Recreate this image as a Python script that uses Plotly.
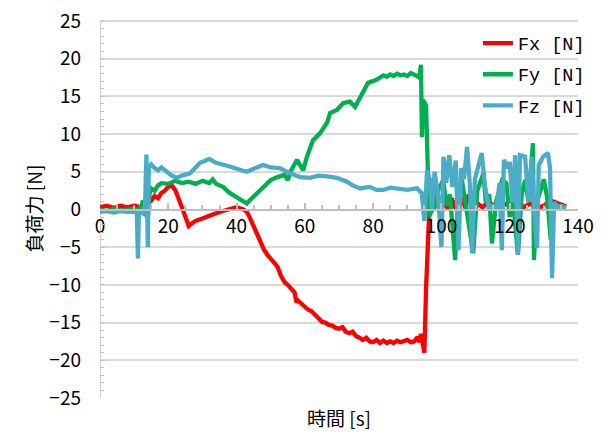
import plotly.graph_objects as go

# ---- Data ----
fx_t = [0, 2, 4, 6, 8, 10, 11, 12, 13, 14, 15, 16, 17, 18, 19, 20, 21, 22, 23, 24, 25, 26, 27, 28,
        30, 32, 34, 36, 38, 40, 42, 43, 44, 45, 46, 47, 48, 49, 50, 51, 52, 53, 54, 55, 56, 57, 57.5,
        58, 59, 60, 61, 62, 63, 64, 65, 66, 67, 68, 69, 70, 71, 72, 73, 74, 75, 76, 77, 78, 79, 80,
        81, 82, 83, 84, 85, 86, 87, 88, 89, 90, 91, 92, 93, 93.5, 94, 94.5, 95, 95.5, 96, 96.5, 97, 98, 99,
        100, 101, 102, 103, 104, 105, 106, 107, 108, 109, 110, 112, 114, 116, 118, 120, 122, 124,
        126, 128, 130, 132, 134, 136.5]
fx_v = [0.3, 0.5, 0.2, 0.5, 0.3, 0.5, 0.4, -0.2, 0.8, 1.5, 1.2, 1.8, 1.5, 2.2, 2.5, 3.0, 3.2, 2.6, 1.5, 0.2, -1.0, -2.2, -1.8, -1.5,
        -1.2, -0.8, -0.5, -0.2, 0.1, 0.3, 0.0, -0.3, -1.2, -2.2, -3.3, -4.5, -5.3, -6.0, -6.6, -7.0, -7.6, -8.8, -9.6, -10.0, -10.6, -11.0, -12.3,
        -12.1, -12.5, -13.0, -13.3, -13.5, -14.0, -14.3, -14.9, -15.0, -15.3, -15.4, -15.7, -15.8, -15.6, -16.2, -16.4, -16.2, -16.8, -17.0, -17.3, -17.0, -17.5, -17.6,
        -17.3, -17.7, -17.4, -17.7, -17.5, -17.7, -17.4, -17.6, -17.5, -17.3, -17.6, -17.5, -16.9, -17.6, -16.5, -18.0, -19.0, -10.5, -3.0, 0.5, 1.0, 0.5, 1.8,
        0.2, 0.8, 0.0, 1.5, 0.3, 0.8, 1.5, 0.2, 2.0, 0.5, 1.0, 0.3, 1.0, 0.2, 0.8, 0.5, 1.2, 0.3,
        0.8, 0.2, 0.5, 1.2, 0.8, 0.4]

fy_t = [0, 2, 4, 6, 8, 10, 11, 12, 12.6, 13, 14, 14.5, 15, 16, 17, 18, 20, 22, 24, 26, 28, 30, 32, 33, 34,
        36, 38, 40, 42, 43, 44, 46, 48, 50, 52, 54, 55, 56, 57.7, 59.5, 60.6, 62.4, 64.4, 66.5, 67.4, 69.4,
        71.2, 73.2, 74.7, 76.7, 78.5, 81, 83, 84, 85, 86, 87, 88, 89, 90, 91, 92.5, 93.5, 94, 94.3, 94.6, 95.5, 96, 96.3,
        97, 98, 99, 100.5, 101.5, 102.5, 104, 105, 106, 107, 108, 109.3, 110.5, 111.5, 112.3, 113, 114,
        114.8, 116, 117.8, 119, 120, 121, 122.4, 123.5, 124.5, 125.5, 126.8, 127.1, 128, 129, 130, 131,
        132, 133, 134, 136.5]
fy_v = [0.0, -0.2, 0.1, -0.1, 0.0, 0.1, -0.1, 0.3, 1.2, -0.5, -1.0, 2.0, 2.8, 2.5, 3.2, 3.5, 3.4, 3.8, 3.5, 3.7, 3.4, 3.8, 3.5, 4.0, 3.4,
        3.0, 2.2, 1.6, 1.0, 0.8, 1.3, 2.2, 3.0, 3.9, 4.3, 4.6, 3.9, 5.2, 6.6, 5.2, 7.0, 9.2, 10.1, 11.5, 12.8, 13.2,
        14.1, 14.3, 13.6, 15.4, 16.8, 17.2, 17.8, 17.6, 17.9, 17.7, 18.0, 17.8, 17.9, 17.7, 18.1, 17.8, 17.5, 19.2, 9.6, 14.5, 13.8, 5.6, -1.0,
        -0.3, 0.3, 2.5, 3.9, 0.5, 2.0, -6.7, 2.0, 3.9, 1.0, -2.0, -5.8, 2.5, 3.9, 4.8, 0.9, 2.0,
        -4.5, 1.0, 3.9, 3.5, -1.0, 1.0, -6.0, 2.0, 3.9, 1.0, 8.8, -6.7, 1.0, 2.6, 4.0, 1.5,
        -4.0, 1.0, 0.5, 0.3]

fz_t = [0, 2, 4, 6, 8, 10, 10.8, 11.1, 11.4, 12.5, 13.2, 13.6, 14.0, 14.3, 15, 16, 17, 18, 19.6, 21, 22.5,
        24, 26.4, 28, 29.3, 31, 32, 34, 36, 38, 40, 42, 43, 45, 47.7, 50, 52.7, 55.7, 58.6, 61.5, 64,
        66.5, 69.4, 72.3, 74, 76.2, 79, 81, 83, 85, 87.9, 90, 92.8, 94.2, 95.0, 95.8, 96.6, 97.2, 98, 99,
        100, 100.6, 101.4, 102.3, 103.2, 104.2, 105, 105.8, 106.6, 107.5, 108.3, 109, 109.8, 110.8, 111.8,
        112.8, 113.8, 115, 116.2, 117, 117.7, 118.3, 119.2, 120, 120.8, 121.6, 122.4, 123, 124.5, 125.5,
        126.5, 127.3, 128, 128.5, 129.8, 131.2, 131.8, 132.4, 133.0, 134, 135, 136.5]
fz_v = [-0.3, -0.2, -0.4, -0.2, -0.3, -0.2, -0.3, -6.5, -0.3, -0.5, 0.5, 7.3, -5.0, 5.5, 6.0, 5.5, 5.2, 5.6, 5.0, 4.5, 4.2,
        4.5, 4.8, 5.5, 6.2, 6.5, 6.7, 6.2, 6.0, 5.7, 5.4, 5.2, 5.0, 5.4, 5.9, 5.6, 5.5, 4.8, 4.3, 4.2, 4.5,
        4.4, 4.2, 3.7, 3.2, 2.8, 3.0, 2.6, 2.6, 2.9, 2.8, 2.6, 2.8, 2.2, -1.5, 5.2, 4.0, 0.0, 5.0, 2.0,
        -5.0, 7.0, 3.5, 7.2, 3.0, 6.5, -5.4, 5.5, 4.0, 8.3, 3.5, -5.8, 4.0, 6.0, 7.5,
        3.0, 0.3, 0.5, 0.3, 3.5, -5.4, 6.6, 5.5, 6.3, 1.0, 7.2, -6.0, 7.2, 7.0, 1.0,
        7.0, -1.0, -5.1, 5.9, 7.0, 7.5, 5.5, -9.1, 0.9, 0.3, 0.5, 0.2]

series_names = ["Fx [N]", "Fy [N]", "Fz [N]"]
series_colors = ["#FF0000", "#00B050", "#4BACC6"]

x_ticks = [0, 20, 40, 60, 80, 100, 120, 140]
y_ticks = [-25, -20, -15, -10, -5, 0, 5, 10, 15, 20, 25]
y_min, y_max = -25.0, 25.27

TICK_FONT = "Noto Sans CJK JP"
grid = "#D9D9D9"
axis_c = "#BFBFBF"

fig = go.Figure()
for i, (t, v) in enumerate([(fx_t, fx_v), (fy_t, fy_v), (fz_t, fz_v)]):
    fig.add_trace(go.Scatter(
        x=t, y=v, mode="lines", name=series_names[i],
        line=dict(color=series_colors[i], width=4.3),
        legendgroup=str(i),
    ))

# page has an 8px body margin, so the figure is drawn 8px smaller and offset
fig.update_layout(
    width=603, height=426,
    margin=dict(l=92, r=33, t=11, b=36, autoexpand=False),
    paper_bgcolor="white", plot_bgcolor="white",
    font=dict(family=TICK_FONT, color="#000000", size=19),
    showlegend=True,
    legend=dict(
        x=1.025, y=0.985, xanchor="right", yanchor="top",
        font=dict(family="Liberation Mono", size=18.5, color="#000000"),
        bgcolor="rgba(0,0,0,0)", traceorder="grouped", tracegroupgap=4,
    ),
    xaxis=dict(
        range=[0, 140], tickvals=x_ticks, ticktext=[str(v) for v in x_ticks],
        anchor="free", position=(0 - y_min) / (y_max - y_min), side="bottom", automargin=False,
        showline=True, linecolor=axis_c, linewidth=1.5,
        ticks="inside", ticklen=6, tickcolor=axis_c, tickwidth=1.5,
        minor=dict(dtick=5, ticks="inside", ticklen=4, tickcolor=axis_c, showgrid=False),
        showgrid=False, zeroline=False,
        tickfont=dict(size=19, family=TICK_FONT),
        ticklabelstandoff=0, ticklabeloverflow="allow",
    ),
    yaxis=dict(
        range=[y_min, y_max], tickvals=y_ticks, automargin=False,
        showline=False,
        ticks="inside", ticklen=5, tickcolor=axis_c,
        minor=dict(dtick=1, ticks="inside", ticklen=4, tickcolor=axis_c, showgrid=False),
        showgrid=True, gridcolor=grid, gridwidth=1.5, zeroline=False,
        tickfont=dict(size=19, family=TICK_FONT),
        ticklabelstandoff=18, ticklabeloverflow="allow",
        title=dict(text="負荷力 [N]", font=dict(size=19, family=TICK_FONT), standoff=1),
    ),
    shapes=[dict(
        type="line", xref="x", yref="y", x0=0, x1=0, y0=y_ticks[0], y1=y_ticks[-1],
        line=dict(color=axis_c, width=1.5), layer="below",
    )],
    annotations=[dict(
        text="時間 [s]", xref="paper", yref="paper", x=0.5, y=0, yshift=-4,
        xanchor="center", yanchor="top", showarrow=False,
        font=dict(size=19, family=TICK_FONT, color="#000000"),
    )],
)

fig.write_html("out.html")
